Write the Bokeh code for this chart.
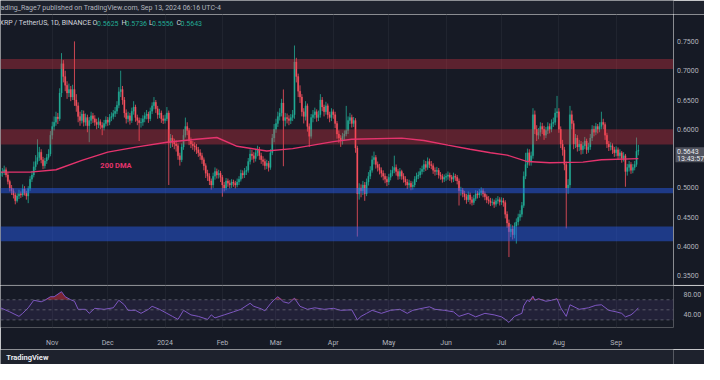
import pandas as pd
from bokeh.plotting import figure
from bokeh.layouts import column, row
from bokeh.models import (Range1d, FixedTicker, Label, LinearAxis, Span, Grid,
                          NumeralTickFormatter)
from bokeh.embed import file_html
from bokeh.resources import INLINE
from bokeh.core.properties import value

# ---------------- data ----------------
first_day = "2023-10-04"
first_open = 0.520

closes = [
    0.525, 0.527, 0.531, 0.522, 0.511, 0.500, 0.495, 0.488, 0.478, 0.486,
    0.490, 0.488, 0.498, 0.491, 0.486, 0.499, 0.515, 0.522, 0.536, 0.545,
    0.552, 0.561, 0.548, 0.538, 0.546, 0.552, 0.558, 0.590, 0.605, 0.612,
    0.621, 0.618, 0.662, 0.712, 0.690, 0.675, 0.662, 0.668, 0.655, 0.668,
    0.650, 0.640, 0.622, 0.615, 0.626, 0.612, 0.620, 0.606, 0.615, 0.623,
    0.618, 0.612, 0.608, 0.613, 0.607, 0.603, 0.610, 0.616, 0.612, 0.620,
    0.622, 0.627, 0.631, 0.641, 0.664, 0.668, 0.650, 0.628, 0.618, 0.623,
    0.615, 0.631, 0.638, 0.620, 0.615, 0.611, 0.612, 0.618, 0.623, 0.626,
    0.618, 0.631, 0.640, 0.646, 0.635, 0.625, 0.628, 0.618, 0.615, 0.618,
    0.628, 0.577, 0.585, 0.578, 0.575, 0.572, 0.555, 0.548, 0.570, 0.590,
    0.605, 0.598, 0.580, 0.575, 0.572, 0.570, 0.565, 0.560, 0.555, 0.548,
    0.538, 0.525, 0.520, 0.512, 0.505, 0.520, 0.528, 0.522, 0.525, 0.518,
    0.505, 0.500, 0.512, 0.508, 0.505, 0.510, 0.508, 0.505, 0.510, 0.515,
    0.525, 0.522, 0.528, 0.530, 0.545, 0.558, 0.555, 0.550, 0.560, 0.565,
    0.555, 0.548, 0.545, 0.538, 0.542, 0.535, 0.560, 0.585, 0.600, 0.610,
    0.622, 0.628, 0.645, 0.615, 0.620, 0.618, 0.615, 0.620, 0.625, 0.715,
    0.690, 0.665, 0.655, 0.630, 0.622, 0.640, 0.605, 0.588, 0.620, 0.625,
    0.630, 0.620, 0.625, 0.650, 0.638, 0.630, 0.640, 0.625, 0.620, 0.630,
    0.625, 0.610, 0.592, 0.585, 0.580, 0.588, 0.592, 0.598, 0.615, 0.620,
    0.610, 0.615, 0.568, 0.490, 0.500, 0.495, 0.505, 0.490, 0.510, 0.520,
    0.530, 0.548, 0.552, 0.540, 0.535, 0.530, 0.525, 0.520, 0.515, 0.510,
    0.518, 0.525, 0.530, 0.535, 0.528, 0.520, 0.528, 0.520, 0.515, 0.510,
    0.505, 0.508, 0.502, 0.505, 0.515, 0.520, 0.522, 0.528, 0.532, 0.540,
    0.535, 0.545, 0.540, 0.538, 0.530, 0.528, 0.530, 0.522, 0.520, 0.515,
    0.518, 0.520, 0.522, 0.518, 0.515, 0.520, 0.518, 0.512, 0.495, 0.496,
    0.490, 0.485, 0.480, 0.488, 0.480, 0.475, 0.482, 0.490, 0.488, 0.492,
    0.495, 0.490, 0.485, 0.480, 0.478, 0.475, 0.476, 0.472, 0.478, 0.480,
    0.476, 0.478, 0.475, 0.455, 0.440, 0.425, 0.430, 0.420, 0.435, 0.442,
    0.450, 0.455, 0.470, 0.520, 0.540, 0.560, 0.545, 0.555, 0.625, 0.600,
    0.590, 0.595, 0.605, 0.600, 0.590, 0.598, 0.605, 0.600, 0.610, 0.612,
    0.628, 0.630, 0.600, 0.575, 0.565, 0.540, 0.500, 0.505, 0.625, 0.610,
    0.575, 0.585, 0.570, 0.575, 0.565, 0.572, 0.580, 0.565, 0.570, 0.585,
    0.600, 0.595, 0.605, 0.600, 0.605, 0.612, 0.608, 0.590, 0.575, 0.570,
    0.572, 0.565, 0.560, 0.565, 0.555, 0.560, 0.550, 0.555, 0.528, 0.535,
    0.540, 0.530, 0.535, 0.540, 0.5625, 0.5643,
]

highs = [
    0.533, 0.534, 0.538, 0.535, 0.526, 0.514, 0.505, 0.499, 0.492, 0.491,
    0.497, 0.494, 0.506, 0.503, 0.495, 0.503, 0.520, 0.529, 0.545, 0.556,
    0.583, 0.570, 0.566, 0.553, 0.551, 0.558, 0.566, 0.597, 0.613, 0.622,
    0.630, 0.628, 0.670, 0.730, 0.718, 0.700, 0.682, 0.678, 0.674, 0.676,
    0.750, 0.660, 0.646, 0.630, 0.633, 0.632, 0.627, 0.625, 0.621, 0.630,
    0.628, 0.624, 0.618, 0.620, 0.617, 0.612, 0.616, 0.622, 0.621, 0.626,
    0.629, 0.633, 0.638, 0.648, 0.672, 0.700, 0.674, 0.655, 0.634, 0.630,
    0.628, 0.637, 0.648, 0.642, 0.625, 0.620, 0.619, 0.624, 0.629, 0.633,
    0.630, 0.637, 0.646, 0.655, 0.650, 0.640, 0.635, 0.632, 0.624, 0.625,
    0.638, 0.632, 0.592, 0.590, 0.584, 0.581, 0.576, 0.560, 0.576, 0.600,
    0.620, 0.612, 0.602, 0.586, 0.580, 0.578, 0.575, 0.570, 0.566, 0.560,
    0.552, 0.542, 0.531, 0.525, 0.516, 0.526, 0.535, 0.533, 0.531, 0.529,
    0.522, 0.510, 0.517, 0.516, 0.513, 0.515, 0.514, 0.512, 0.516, 0.520,
    0.531, 0.530, 0.534, 0.537, 0.551, 0.566, 0.565, 0.561, 0.567, 0.572,
    0.570, 0.560, 0.554, 0.550, 0.548, 0.546, 0.566, 0.592, 0.609, 0.618,
    0.630, 0.636, 0.652, 0.668, 0.628, 0.627, 0.624, 0.626, 0.633, 0.743,
    0.722, 0.695, 0.675, 0.660, 0.636, 0.648, 0.644, 0.610, 0.626, 0.633,
    0.637, 0.634, 0.632, 0.660, 0.655, 0.642, 0.647, 0.644, 0.630, 0.636,
    0.634, 0.630, 0.614, 0.598, 0.590, 0.594, 0.598, 0.640, 0.622, 0.628,
    0.625, 0.621, 0.619, 0.572, 0.508, 0.506, 0.512, 0.510, 0.516, 0.527,
    0.537, 0.555, 0.562, 0.556, 0.545, 0.541, 0.535, 0.530, 0.525, 0.520,
    0.524, 0.531, 0.537, 0.555, 0.540, 0.532, 0.534, 0.531, 0.525, 0.520,
    0.515, 0.514, 0.512, 0.511, 0.520, 0.526, 0.528, 0.534, 0.538, 0.548,
    0.546, 0.552, 0.550, 0.546, 0.542, 0.535, 0.536, 0.534, 0.527, 0.524,
    0.523, 0.525, 0.528, 0.526, 0.522, 0.526, 0.524, 0.522, 0.516, 0.502,
    0.500, 0.495, 0.490, 0.494, 0.492, 0.485, 0.488, 0.496, 0.495, 0.498,
    0.501, 0.499, 0.494, 0.489, 0.486, 0.483, 0.482, 0.480, 0.483, 0.486,
    0.484, 0.484, 0.483, 0.479, 0.460, 0.446, 0.438, 0.436, 0.441, 0.448,
    0.456, 0.462, 0.476, 0.528, 0.560, 0.567, 0.566, 0.562, 0.636, 0.632,
    0.607, 0.602, 0.612, 0.611, 0.606, 0.604, 0.612, 0.610, 0.617, 0.620,
    0.636, 0.657, 0.636, 0.605, 0.582, 0.570, 0.545, 0.515, 0.640, 0.632,
    0.615, 0.592, 0.590, 0.582, 0.580, 0.578, 0.587, 0.584, 0.577, 0.592,
    0.607, 0.606, 0.611, 0.609, 0.612, 0.630, 0.618, 0.612, 0.594, 0.580,
    0.578, 0.576, 0.570, 0.571, 0.569, 0.566, 0.563, 0.561, 0.558, 0.541,
    0.546, 0.544, 0.541, 0.546, 0.586, 0.5736,
]

lows = [
    0.514, 0.519, 0.522, 0.518, 0.506, 0.494, 0.488, 0.482, 0.472, 0.475,
    0.481, 0.483, 0.485, 0.487, 0.480, 0.474, 0.495, 0.510, 0.518, 0.530,
    0.540, 0.546, 0.542, 0.532, 0.533, 0.541, 0.548, 0.554, 0.583, 0.598,
    0.606, 0.609, 0.614, 0.655, 0.680, 0.665, 0.652, 0.655, 0.648, 0.650,
    0.640, 0.630, 0.612, 0.606, 0.610, 0.605, 0.606, 0.595, 0.578, 0.609,
    0.611, 0.606, 0.600, 0.602, 0.600, 0.590, 0.598, 0.605, 0.606, 0.607,
    0.614, 0.617, 0.621, 0.626, 0.636, 0.655, 0.642, 0.620, 0.610, 0.612,
    0.608, 0.611, 0.625, 0.613, 0.607, 0.580, 0.603, 0.606, 0.612, 0.617,
    0.611, 0.614, 0.626, 0.634, 0.628, 0.618, 0.619, 0.611, 0.609, 0.610,
    0.614, 0.505, 0.568, 0.570, 0.566, 0.562, 0.548, 0.538, 0.544, 0.565,
    0.586, 0.590, 0.573, 0.568, 0.565, 0.562, 0.558, 0.553, 0.548, 0.541,
    0.530, 0.517, 0.512, 0.505, 0.497, 0.500, 0.514, 0.516, 0.516, 0.510,
    0.485, 0.494, 0.496, 0.502, 0.499, 0.500, 0.502, 0.499, 0.501, 0.505,
    0.511, 0.516, 0.517, 0.522, 0.526, 0.540, 0.548, 0.543, 0.545, 0.554,
    0.548, 0.541, 0.538, 0.531, 0.532, 0.528, 0.531, 0.556, 0.578, 0.594,
    0.604, 0.615, 0.622, 0.537, 0.605, 0.610, 0.607, 0.609, 0.614, 0.618,
    0.680, 0.655, 0.645, 0.622, 0.610, 0.615, 0.596, 0.570, 0.584, 0.612,
    0.618, 0.613, 0.614, 0.620, 0.631, 0.622, 0.625, 0.618, 0.612, 0.614,
    0.618, 0.602, 0.584, 0.577, 0.570, 0.574, 0.582, 0.588, 0.592, 0.609,
    0.603, 0.604, 0.560, 0.417, 0.480, 0.484, 0.488, 0.478, 0.486, 0.504,
    0.515, 0.526, 0.540, 0.533, 0.528, 0.523, 0.518, 0.513, 0.508, 0.503,
    0.505, 0.513, 0.520, 0.525, 0.521, 0.514, 0.515, 0.514, 0.509, 0.504,
    0.498, 0.500, 0.496, 0.497, 0.501, 0.510, 0.515, 0.517, 0.523, 0.527,
    0.529, 0.531, 0.534, 0.532, 0.524, 0.521, 0.522, 0.516, 0.514, 0.509,
    0.510, 0.512, 0.514, 0.512, 0.509, 0.510, 0.512, 0.506, 0.470, 0.487,
    0.484, 0.479, 0.473, 0.476, 0.472, 0.470, 0.471, 0.478, 0.482, 0.483,
    0.487, 0.484, 0.479, 0.474, 0.472, 0.469, 0.470, 0.466, 0.468, 0.473,
    0.470, 0.471, 0.468, 0.448, 0.432, 0.382, 0.416, 0.412, 0.414, 0.405,
    0.436, 0.444, 0.450, 0.466, 0.515, 0.534, 0.538, 0.538, 0.550, 0.592,
    0.580, 0.583, 0.588, 0.592, 0.582, 0.585, 0.592, 0.593, 0.595, 0.604,
    0.607, 0.620, 0.594, 0.568, 0.555, 0.530, 0.431, 0.490, 0.500, 0.600,
    0.566, 0.568, 0.562, 0.563, 0.557, 0.558, 0.566, 0.558, 0.560, 0.565,
    0.580, 0.588, 0.590, 0.593, 0.595, 0.600, 0.600, 0.582, 0.568, 0.563,
    0.564, 0.558, 0.553, 0.554, 0.548, 0.550, 0.543, 0.545, 0.502, 0.521,
    0.528, 0.524, 0.525, 0.530, 0.536, 0.5556,
]

# 200-day moving average (day index from first_day)
dma_days = [0, 16, 30, 44, 58, 74, 90, 106, 117, 128, 144, 158, 169, 180, 190,
            217, 229, 242, 254, 265, 274, 285, 297, 315, 325, 345]
dma_values = [0.527, 0.527, 0.531, 0.547, 0.561, 0.570, 0.578, 0.583, 0.586,
              0.571, 0.563, 0.567, 0.573, 0.579, 0.583, 0.585, 0.581, 0.573,
              0.566, 0.560, 0.556, 0.545, 0.543, 0.544, 0.548, 0.550]

# RSI (day index from first_day)
rsi_days = [0, 5, 10, 12, 15, 18, 22, 24, 27, 29, 33, 35, 38, 40, 42, 46, 48, 51,
            56, 61, 64, 67, 69, 73, 76, 80, 82, 86, 90, 93, 96, 99, 103, 107, 112,
            114, 116, 121, 126, 130, 135, 137, 141, 143, 146, 148, 150, 153, 156,
            159, 162, 166, 170, 175, 180, 184, 190, 193, 195, 198, 201, 206, 211,
            216, 220, 223, 228, 232, 235, 240, 245, 248, 253, 257, 262, 267, 271,
            273, 275, 278, 282, 283, 285, 286, 288, 289, 291, 295, 298, 301, 303,
            306, 308, 313, 318, 322, 325, 329, 333, 336, 338, 341, 343, 345]
rsi_values = [54, 46, 37, 43, 54, 69, 66, 69, 76, 76, 86, 76, 70, 67, 51, 51, 43, 53,
              51, 54, 69, 60, 49, 49, 43, 51, 57, 51, 43, 37, 31, 49, 40, 37, 31,
              40, 34, 40, 46, 51, 63, 57, 52, 48, 62, 70, 76, 66, 63,
              73, 57, 51, 54, 51, 53, 49, 50, 30, 37, 43, 49, 43, 49,
              51, 43, 49, 53, 56, 51, 49, 46, 37, 43, 36, 43, 40, 36,
              31, 25, 37, 43, 58, 70, 66, 77, 69, 72, 67, 69, 72, 54,
              37, 60, 51, 54, 59, 60, 49, 46, 43, 36, 40, 46, 54]

zone_top = [0.720, 0.600, 0.500, 0.434]
zone_bottom = [0.703, 0.574, 0.491, 0.409]
zone_kind = ["resistance", "resistance", "support", "support"]

price_ticks = [0.35, 0.40, 0.45, 0.50, 0.55, 0.60, 0.65, 0.70, 0.75]
rsi_ticks = [40, 80]
rsi_levels = [30, 50, 70]
month_starts = ["2023-11-01", "2023-12-01", "2024-01-01", "2024-02-01", "2024-03-01",
                "2024-04-01", "2024-05-01", "2024-06-01", "2024-07-01", "2024-08-01",
                "2024-09-01"]
month_labels = ["Nov", "Dec", "2024", "Feb", "Mar", "Apr", "May", "Jun", "Jul",
                "Aug", "Sep"]

header_text = "ading_Rage7 published on TradingView.com, Sep 13, 2024 06:16 UTC-4"
symbol_text = "XRP / TetherUS, 1D, BINANCE"
countdown = "13:43:57"
dma_label = "200 DMA"
dma_label_day = 54
dma_label_price = 0.538

# ---------------- styles ----------------
W = 704
RIGHT = 31
FRAME_W = W - RIGHT
PRICE_H = 271
Y0, Y1 = 0.3335, 0.7959
BG = "#161a25"
BAR = "#1e222d"
TXT = "#b2b5be"
UP = "#22ab94"
DOWN = "#f7525f"
FONT = "Roboto"
DAY = 86400000


def ms(s):
    return int(pd.Timestamp(s).value // 10**6)


x0 = ms(first_day)
n = len(closes)
xs = [x0 + i * DAY for i in range(n)]
opens = [first_open] + closes[:-1]
colors = [UP if c >= o else DOWN for o, c in zip(opens, closes)]
tops = [max(o, c) for o, c in zip(opens, closes)]
bots = [min(o, c) for o, c in zip(opens, closes)]
x_start = x0
x_end = x0 + 364 * DAY
xr = Range1d(x_start, x_end)
yr = Range1d(Y0, Y1)
month_ms = [ms(m) for m in month_starts]
px_price = (Y1 - Y0) / PRICE_H


def style_common(f, bg=BG):
    f.background_fill_color = bg
    f.border_fill_color = bg
    f.outline_line_color = None


# ---------------- header ----------------
hdr = figure(width=W, height=14, x_range=Range1d(0, W), y_range=Range1d(0, 1),
             x_axis_type=None, y_axis_type=None, toolbar_location=None,
             output_backend="svg", min_border=0)
style_common(hdr, BAR)
hdr.add_layout(Label(x=0, y=0.5, text=header_text, text_baseline="middle",
                     text_font_size="7px", text_color=TXT, text_font=FONT))

# ---------------- price pane ----------------
p = figure(width=FRAME_W, height=PRICE_H, x_range=xr, y_range=yr,
           x_axis_type=None, y_axis_type=None, toolbar_location=None,
           output_backend="svg", min_border=0)
style_common(p)
p.add_layout(Grid(dimension=0, ticker=FixedTicker(ticks=month_ms),
                  grid_line_color="#20242f"))

p.segment(x0=xs, y0=lows, x1=xs, y1=highs, line_color=colors, line_width=0.8)
p.vbar(x=xs, width=0.7 * DAY, top=tops, bottom=bots, fill_color=colors,
       line_color=colors, line_width=0.3)

zone_fill = ["#f23645" if k == "resistance" else "#2962ff" for k in zone_kind]
zone_alpha = [0.32 if k == "resistance" else 0.45 for k in zone_kind]
p.quad(left=[x_start] * len(zone_top), right=[x_end] * len(zone_top),
       top=zone_top, bottom=zone_bottom, fill_color=zone_fill,
       fill_alpha=zone_alpha, line_color=None)

p.line([x0 + d * DAY for d in dma_days], dma_values, line_color="#e5336d",
       line_width=1.4)
p.text(x=[x0 + dma_label_day * DAY], y=[dma_label_price], text=[dma_label],
       text_color="#e5336d", text_font=value(FONT), text_font_size="7.5px",
       text_font_style="bold", text_baseline="middle", text_align="left")
p.add_layout(Span(location=Y0 + 0.4 * px_price, dimension="width",
                  line_color="#2a2e39", line_width=1.2))

# legend line
leg_y = 0.7812
o_, h_, l_, c_ = opens[-1], highs[-1], lows[-1], closes[-1]
legend_parts = [(symbol_text, -1, "#d1d4dc"),
                ("O", 92, "#d1d4dc"), ("%.4f" % o_, 96.5, UP),
                ("H", 121, "#d1d4dc"), ("%.4f" % h_, 125, UP),
                ("L", 148.5, "#d1d4dc"), ("%.4f" % l_, 151.5, UP),
                ("C", 176, "#d1d4dc"), ("%.4f" % c_, 180, UP)]
for txt, sx, col in legend_parts:
    p.add_layout(Label(x=sx, x_units="screen", y=leg_y, text=txt,
                       text_baseline="middle", text_font_size="7px",
                       text_color=col, text_font=FONT))

# ---------------- price scale column ----------------
ps = figure(width=RIGHT, height=PRICE_H, x_range=Range1d(0, RIGHT), y_range=yr,
            x_axis_type=None, y_axis_type=None, toolbar_location=None,
            output_backend="svg", min_border=0)
style_common(ps)
ps.text(x=[3.6] * len(price_ticks), y=price_ticks,
        text=["%.4f" % t for t in price_ticks], text_color=TXT,
        text_font=value(FONT), text_font_size="7px", text_baseline="middle",
        text_align="left")
ps.rect(x=[17], y=[c_ - 4.5 * px_price], width=[30], height=[15],
        height_units="screen", fill_color="#50535e", line_color=None)
ps.text(x=[3.6, 3.6], y=[c_, c_], y_offset=[1, 8.5],
        text=["%.4f" % c_, countdown], text_color="#e8eaf0",
        text_font=value(FONT), text_font_size="7px", text_baseline="middle",
        text_align="left")
ps.add_layout(Span(location=Y0 + 0.4 * px_price, dimension="width",
                   line_color="#2a2e39", line_width=1.2))

# ---------------- RSI pane ----------------
r = figure(width=W, height=64, x_range=xr, y_range=Range1d(14.9, 98.3),
           x_axis_type=None, y_axis_location="right", toolbar_location=None,
           output_backend="svg", min_border_left=0, min_border_right=RIGHT,
           min_border_top=0, min_border_bottom=18)
style_common(r)
r.ygrid.visible = False
r.add_layout(Grid(dimension=0, ticker=FixedTicker(ticks=month_ms),
                  grid_line_color="#20242f"))
ar = r.yaxis[0]
ar.ticker = FixedTicker(ticks=rsi_ticks)
ar.formatter = NumeralTickFormatter(format="0.00")
ar.axis_line_color = None
ar.major_tick_line_color = None
ar.minor_tick_line_color = None
ar.major_label_text_color = TXT
ar.major_label_text_font_size = "7px"
ar.major_label_text_font = FONT
ar.major_label_standoff = 4

r.quad(left=[x_start], right=[x_end], bottom=[min(rsi_levels)],
       top=[max(rsi_levels)], fill_color="#7e57c2", fill_alpha=0.12,
       line_color=None)
for lv in rsi_levels:
    r.add_layout(Span(location=lv, dimension="width", line_color="#787b86",
                      line_dash="3 3", line_width=0.8, line_alpha=0.8))
rsi_x = [x0 + d * DAY for d in rsi_days]
r.varea(x=rsi_x, y1=[max(rsi_levels)] * len(rsi_values),
        y2=[max(v, max(rsi_levels)) for v in rsi_values],
        fill_color="#f23645", fill_alpha=0.45)
r.line(rsi_x, rsi_values, line_color="#7e57c2", line_width=1)

xa = LinearAxis(ticker=FixedTicker(ticks=month_ms),
                major_label_overrides={m: lab for m, lab in zip(month_ms, month_labels)})
xa.axis_line_color = None
xa.major_tick_line_color = None
xa.minor_tick_line_color = None
xa.major_label_text_color = TXT
xa.major_label_text_font_size = "7px"
xa.major_label_text_font = FONT
xa.major_label_standoff = 5
r.add_layout(xa, "below")

# ---------------- footer ----------------
ftr = figure(width=W, height=15, x_range=Range1d(0, W), y_range=Range1d(0, 1),
             x_axis_type=None, y_axis_type=None, toolbar_location=None,
             output_backend="svg", min_border=0)
style_common(ftr, BAR)
ftr.add_layout(Label(x=6, y=0.5, text="TradingView", text_baseline="middle",
                     text_font_size="7.5px", text_color="#e8eaf0",
                     text_font=FONT, text_font_style="bold"))

layout = column(hdr, row(p, ps, spacing=0), r, ftr, spacing=0)
open("out.html", "w").write(file_html(layout, INLINE))
